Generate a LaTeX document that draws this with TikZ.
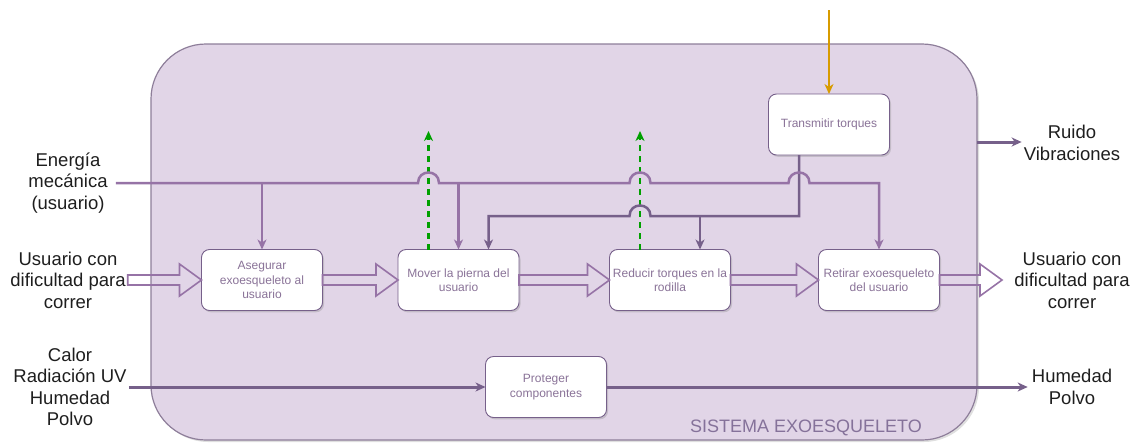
\documentclass[tikz,border=0pt]{standalone}
\usepackage{fontspec}
\setmainfont{Liberation Sans}
\usetikzlibrary{arrows.meta,shadows,calc}

\definecolor{sysfill}{HTML}{E1D5E7}
\definecolor{sysedge}{HTML}{8E7E9A}
\definecolor{flowlight}{HTML}{9673A6}
\definecolor{flowdark}{HTML}{76608A}
\definecolor{boxtext}{HTML}{8A7398}
\definecolor{systext}{HTML}{85729A}
\definecolor{flowgreen}{HTML}{00A000}
\definecolor{flowgold}{HTML}{D79B00}
\definecolor{labeltext}{HTML}{1E1E1E}

\begin{document}
\begin{tikzpicture}[x=1pt,y=-1pt,
  sysbox/.style={draw=sysedge, line width=1.2pt, fill=sysfill, rounded corners=55pt,
    minimum width=826pt, minimum height=396pt, inner sep=0pt, outer sep=0pt,
    drop shadow={shadow xshift=2pt, shadow yshift=-2pt, opacity=0.25}},
  func/.style={draw=flowdark, line width=0.9pt, fill=white, rounded corners=8pt,
    minimum width=121pt, minimum height=61pt, inner sep=1pt, outer sep=0pt, align=center,
    font=\fontsize{12}{14.5}\selectfont, text=boxtext,
    drop shadow={shadow xshift=1.5pt, shadow yshift=-1.8pt, opacity=0.3}},
  outer/.style={align=center, font=\fontsize{18.5}{21.5}\selectfont, text=labeltext, inner sep=2pt},
  tip/.style={-{Stealth[length=10pt, width=9pt, inset=3pt]}},
  energy/.style={draw=flowlight, line width=2.5pt, tip},
  torque/.style={draw=flowdark, line width=2.5pt, tip},
  env/.style={draw=flowdark, line width=3pt, tip},
  loss/.style={draw=flowgreen, line width=2.3pt, dash pattern=on 6pt off 5pt,
    -{Stealth[length=10pt, width=9pt, inset=3pt]}},
  supply/.style={draw=flowgold, line width=2pt, -{Stealth[length=10pt, width=9pt, inset=3pt]}},
  hollow/.style={draw=flowlight, line width=1.6pt, line join=miter,
    to path={let \p1=(\tikztostart), \p2=(\tikztotarget) in
      (\x1,\y1-5pt) -- (\x2-22pt,\y2-5pt) -- (\x2-22pt,\y2-16pt) -- (\x2,\y2)
      -- (\x2-22pt,\y2+16pt) -- (\x2-22pt,\y2+5pt) -- (\x1,\y1+5pt) -- cycle}}
]
\useasboundingbox (0,0) rectangle (1134,442);

% system boundary
\node[sysbox] (sys) at (564,242) {};
\node[font=\fontsize{18}{21}\selectfont, text=systext] (systitle) at (806,428) {SISTEMA EXOESQUELETO};

% functions
\node[func] (asegurar)   at (262,280)   {Asegurar\\exoesqueleto al\\usuario};
\node[func] (mover)      at (458.5,280) {Mover la pierna del\\usuario};
\node[func] (reducir)    at (670,280)   {Reducir torques en la\\rodilla};
\node[func] (retirar)    at (879,280)   {Retirar exoesqueleto\\del usuario};
\node[func] (transmitir) at (829,124.5) {Transmitir torques};
\node[func] (proteger)   at (546,387)   {Proteger\\componentes};

% external labels
\node[outer, inner xsep=8pt] (energia) at (68,183) {Energía\\mecánica\\(usuario)};
\node[outer] (usrin)  at (68,280)   {Usuario con\\dificultad para\\correr};
\node[outer] (calor)  at (70,387)   {Calor\\Radiación UV\\Humedad\\Polvo};
\node[outer] (usrout) at (1072,280) {Usuario con\\dificultad para\\correr};
\node[outer] (ruido)  at (1072,143) {Ruido\\Vibraciones};
\node[outer, inner xsep=4pt] (humedad) at (1072,387) {Humedad\\Polvo};

% helper coordinates
\coordinate (ebus) at (0,183);
\coordinate (tbus) at (0,216);
\coordinate (outtip) at (1002,280);
\coordinate (torqin) at (829,10);
\coordinate (gup1) at (428.5,131);
\coordinate (gup2) at (640,131);

% material flow
\draw[hollow] (usrin.east) to (asegurar.west);
\draw[hollow] (asegurar.east) to (mover.west);
\draw[hollow] (mover.east) to (reducir.west);
\draw[hollow] (reducir.east) to (retirar.west);
\draw[hollow] (retirar.east) to (outtip);

% energy losses
\draw[loss] ([xshift=-30pt]mover.north) -- (gup1);
\draw[loss] ([xshift=-30pt]reducir.north) -- (gup2);

% torque distribution
\draw[torque] ([xshift=-30pt]transmitir.south) -- ([xshift=-30pt]transmitir.south |- tbus)
  -- (650.5,216) .. controls (650.5,202) and (629.5,202) .. (629.5,216)
  -- ([xshift=30pt]mover.north |- tbus) -- ([xshift=30pt]mover.north);
\draw[torque] ([xshift=30pt]reducir.north |- tbus) -- ([xshift=30pt]reducir.north);

% mechanical energy from the user
\draw[energy] (energia.east) -- (418,183) .. controls (418,169) and (439,169) .. (439,183)
  -- (629.5,183) .. controls (629.5,169) and (650.5,169) .. (650.5,183)
  -- (788.5,183) .. controls (788.5,169) and (809.5,169) .. (809.5,183)
  -- (retirar.north |- ebus) -- (retirar.north);
\draw[energy] (asegurar.north |- ebus) -- (asegurar.north);
\draw[energy] (mover.north |- ebus) -- (mover.north);

% external torque supply and outputs
\draw[supply] (torqin) -- (transmitir.north);
\draw[env] ([yshift=1pt]sys.east |- ruido.west) -- ([yshift=1pt]ruido.west);
\draw[env] (calor.east) -- (proteger.west);
\draw[env] (proteger.east) -- (humedad.west);
\end{tikzpicture}
\end{document}
